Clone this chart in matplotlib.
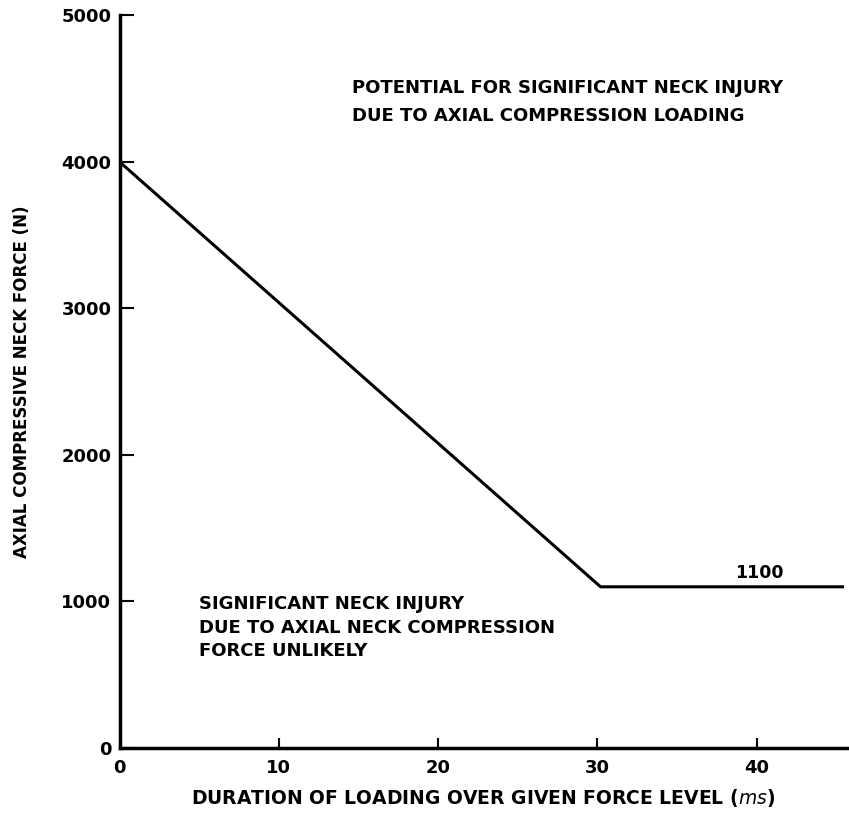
import numpy as np
import matplotlib.pyplot as plt

# tolerance curve: axial compressive neck force vs duration
duration = [0, 30.2, 45.5]
force = [4000, 1100, 1100]
x_ticks = [0, 10, 20, 30, 40]
y_ticks = [0, 1000, 2000, 3000, 4000, 5000]

fig = plt.figure(figsize=(8.49, 8.13), dpi=100)
ax = fig.add_axes([0.141, 0.080, 0.857, 0.901])

ax.plot(duration, force, color='black', lw=2.2, solid_capstyle='butt')

ax.set_xlim(0, 45.7)
ax.set_ylim(0, 5000)
ax.set_xticks(x_ticks)
ax.set_yticks(y_ticks)
ax.set_xticklabels([str(t) for t in x_ticks], fontsize=13, fontweight='bold')
ax.set_yticklabels([str(t) for t in y_ticks], fontsize=13, fontweight='bold')
ax.tick_params(axis='y', direction='in', length=10, width=1.5, pad=6)
ax.tick_params(axis='x', direction='in', length=7, width=1.5, pad=8)

for s in ('top', 'right'):
    ax.spines[s].set_visible(False)
for s in ('left', 'bottom'):
    ax.spines[s].set_linewidth(2.5)

ax.set_xlabel(r"DURATION OF LOADING OVER GIVEN FORCE LEVEL ($\it{ms}$)",
              fontsize=13.5, fontweight='bold', labelpad=7)
ax.set_ylabel("AXIAL COMPRESSIVE NECK FORCE (N)", fontsize=12,
              fontweight='bold', labelpad=22)

ax.text(14.6, 4410, "POTENTIAL FOR SIGNIFICANT NECK INJURY\nDUE TO AXIAL COMPRESSION LOADING",
        fontsize=13, fontweight='bold', ha='left', va='center', linespacing=1.75)
ax.text(5.0, 820, "SIGNIFICANT NECK INJURY\nDUE TO AXIAL NECK COMPRESSION\nFORCE UNLIKELY",
        fontsize=13, fontweight='bold', ha='left', va='center', linespacing=1.4)
ax.text(40.2, 1194, "1100", fontsize=12.5, fontweight='bold', ha='center', va='center')

plt.savefig('out.png', dpi=100)
